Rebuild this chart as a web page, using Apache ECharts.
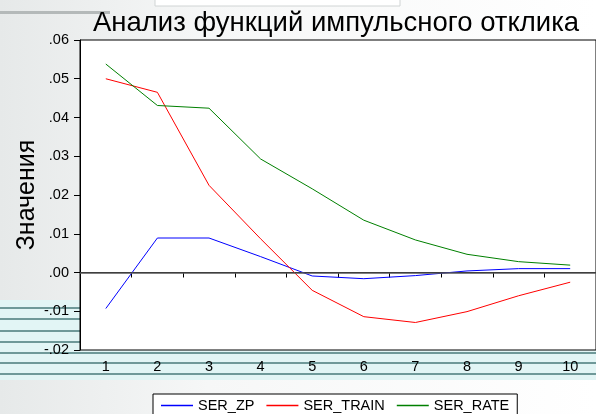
<!DOCTYPE html>
<html>
<head>
<meta charset="utf-8">
<script src="https://cdn.jsdelivr.net/npm/echarts@6/dist/echarts.min.js"></script>
<style>
html,body{margin:0;padding:0;background:#fff;}
#c{width:596px;height:414px;}
</style>
</head>
<body>
<div id="c"></div>
<script>
const categories = ['1','2','3','4','5','6','7','8','9','10'];
const serZP    = [-0.0093, 0.0089, 0.0089, 0.0041, -0.0009, -0.0016, -0.0008, 0.0004, 0.0010, 0.0010];
const serTrain = [0.0500, 0.0465, 0.0225, 0.0087, -0.0046, -0.0114, -0.0129, -0.0101, -0.0060, -0.0025];
const serRate  = [0.0538, 0.0431, 0.0424, 0.0293, 0.0216, 0.0135, 0.0084, 0.0047, 0.0028, 0.0019];
const seriesNames = ['SER_ZP', 'SER_TRAIN', 'SER_RATE'];
const seriesColors = ['#0000ff', '#ff0000', '#008000'];
const titleText = 'Анализ функций импульсного отклика';
const yAxisName = 'Значения';

const FONT = 'Liberation Sans, Arial, sans-serif';
const chart = echarts.init(document.getElementById('c'));
const stripeYs = [308, 319, 331, 342, 353, 363, 374];
const bg = [
  {type:'rect', shape:{x:0,y:0,width:596,height:414}, style:{fill:new echarts.graphic.LinearGradient(0,0,1,0,[{offset:0,color:'#e6e9e9'},{offset:0.35,color:'#f6f7f7'},{offset:1,color:'#ffffff'}])}, z:-10, silent:true},
  {type:'rect', shape:{x:0,y:300,width:596,height:80}, style:{fill:'#e2f5f5'}, z:-9, silent:true},
  {type:'rect', shape:{x:0,y:11,width:110,height:3}, style:{fill:'#b4b9b9'}, z:-9, silent:true},
  {type:'rect', shape:{x:155,y:-4,width:245,height:10}, style:{fill:'#ffffff', stroke:'#d0d4d4', lineWidth:1}, z:-9, silent:true}
];
stripeYs.forEach(y => bg.push({type:'rect', shape:{x:0,y:y-1,width:596,height:2}, style:{fill:'#6f9999'}, z:-8, silent:true}));

chart.setOption({
  animation:false,
  backgroundColor:'transparent',
  graphic: bg,
  title:{
    text:titleText, left:88, top:4,
    textStyle:{fontFamily:FONT, fontSize:27.5, fontWeight:'normal', color:'#000'}
  },
  legend:{
    data:seriesNames.map((n,i) => ({name:n, itemStyle:{color:seriesColors[i]}})),
    left:153, top:394, orient:'horizontal',
    icon:'rect', itemWidth:32, itemHeight:1.5,
    backgroundColor:'#fff', borderColor:'#000', borderWidth:1, borderRadius:0,
    padding:[4,8,8,8], itemGap:12,
    textStyle:{fontFamily:FONT, fontSize:14.5, color:'#000'}
  },
  grid:{
    left:80, top:40, width:520, bottom:64, show:true,
    backgroundColor:'#fff', borderColor:'#000', borderWidth:1
  },
  xAxis:{
    type:'category', data:categories, boundaryGap:true,
    axisLine:{lineStyle:{color:'#000', width:1}},
    axisTick:{show:true, inside:false, length:5, lineStyle:{color:'#000'}},
    axisLabel:{color:'#000', fontSize:14.5, fontFamily:FONT, margin:9},
    splitLine:{show:false}
  },
  yAxis:{
    type:'value', min:-0.02, max:0.06, interval:0.01,
    name:yAxisName, nameLocation:'middle', nameGap:40, nameRotate:90, nameMoveOverlap:false,
    nameTextStyle:{fontFamily:FONT, fontSize:25, color:'#000'},
    axisLine:{show:true, lineStyle:{color:'#000', width:1}},
    axisTick:{show:true, inside:false, length:6, lineStyle:{color:'#000'}},
    axisLabel:{color:'#000', fontSize:14.5, fontFamily:FONT, margin:11,
      formatter:v => { const s = Math.abs(v).toFixed(2).replace(/^0/, ''); return (v < -1e-9 ? '-' : '') + s; }},
    splitLine:{show:false}
  },
  series:[
    {name:seriesNames[0], type:'line', data:serZP, symbol:'none', lineStyle:{color:seriesColors[0], width:1}, itemStyle:{color:seriesColors[0]},
     markLine:{silent:true, symbol:'none', label:{show:false}, lineStyle:{color:'#555', width:1.5, type:'solid'}, data:[{yAxis:0}]}},
    {name:seriesNames[1], type:'line', data:serTrain, symbol:'none', lineStyle:{color:seriesColors[1], width:1}, itemStyle:{color:seriesColors[1]}},
    {name:seriesNames[2], type:'line', data:serRate, symbol:'none', lineStyle:{color:seriesColors[2], width:1}, itemStyle:{color:seriesColors[2]}}
  ]
});
</script>
</body>
</html>
